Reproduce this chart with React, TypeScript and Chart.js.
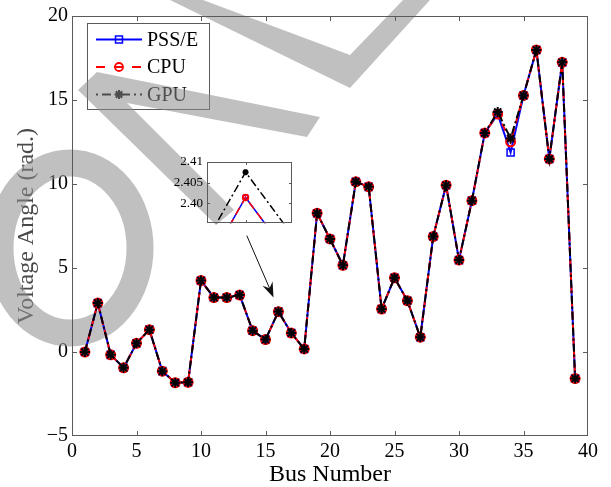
import React, { useEffect, useRef } from "react";
import { Chart, registerables } from "chart.js";

Chart.register(...registerables);

// ---------------- data ----------------
const BUS_NUMBERS = [
  1, 2, 3, 4, 5, 6, 7, 8, 9, 10, 11, 12, 13, 14, 15, 16, 17, 18, 19, 20,
  21, 22, 23, 24, 25, 26, 27, 28, 29, 30, 31, 32, 33, 34, 35, 36, 37, 38, 39,
];
const PSSE_ANGLES = [
  0, 2.91, -0.17, -0.94, 0.52, 1.33, -1.14, -1.83, -1.8, 4.25, 3.24, 3.24, 3.39,
  1.27, 0.74, 2.4014, 1.13, 0.18, 8.26, 6.73, 5.16, 10.13, 9.83, 2.56, 4.42,
  3.05, 0.88, 6.87, 9.93, 5.47, 9.01, 13.04, 14.16, 11.88, 15.27, 17.98, 11.49,
  17.24, -1.58,
];
const CPU_ANGLES = [
  0, 2.91, -0.17, -0.94, 0.52, 1.33, -1.14, -1.83, -1.8, 4.25, 3.24, 3.24, 3.39,
  1.27, 0.74, 2.4014, 1.13, 0.18, 8.26, 6.73, 5.16, 10.13, 9.83, 2.56, 4.42,
  3.05, 0.88, 6.87, 9.93, 5.47, 9.01, 13.04, 14.16, 12.51, 15.27, 17.98, 11.49,
  17.24, -1.58,
];
const GPU_ANGLES = [
  0, 2.91, -0.17, -0.94, 0.52, 1.33, -1.14, -1.83, -1.8, 4.25, 3.24, 3.24, 3.39,
  1.27, 0.74, 2.4075, 1.13, 0.18, 8.26, 6.73, 5.16, 10.13, 9.83, 2.56, 4.42,
  3.05, 0.88, 6.87, 9.93, 5.47, 9.01, 13.04, 14.29, 12.71, 15.27, 17.98, 11.49,
  17.24, -1.58,
];
const SERIES_NAMES = ["PSS/E", "CPU", "GPU"];
const X_TICKS = [0, 5, 10, 15, 20, 25, 30, 35, 40];
const Y_TICKS = [-5, 0, 5, 10, 15, 20];
const X_TITLE = "Bus Number";
const Y_TITLE = "Voltage Angle (rad.)";

const INSET_X_RANGE = [15.9902, 16.0118];
const INSET_Y_RANGE = [2.3952, 2.41];
const INSET_X_TICKS = [16];
const INSET_Y_TICKS = [2.4, 2.405, 2.41];
const INSET_Y_LABELS = ["2.40", "2.405", "2.41"];

const ARROW_FROM = [13.55, 6.93];
const ARROW_TO = [15.62, 3.25];

// ---------------- styles ----------------
const FONT = "'Liberation Serif', 'Times New Roman', Times, serif";
const AXIS_COLOR = "#5a5a5a";
const BLUE = "#0000ff";
const RED = "#ff0000";
const BLACK = "#000000";
const WATERMARK = "rgba(140,140,140,0.55)";

const W = 611;
const H = 487;

function toPoints(vals: number[]) {
  return BUS_NUMBERS.map((b, i) => ({ x: b, y: vals[i] }));
}

function makeDatasets(markerScale: number, lineW: number) {
  return [
    {
      label: SERIES_NAMES[0],
      data: toPoints(PSSE_ANGLES),
      borderColor: BLUE,
      backgroundColor: BLUE,
      borderWidth: lineW,
      pointStyle: "rect",
      pointRadius: 5 * markerScale,
      pointBorderWidth: 1.5,
      pointBorderColor: BLUE,
      pointBackgroundColor: "rgba(0,0,0,0)",
      tension: 0,
      fill: false,
      order: 3,
    },
    {
      label: SERIES_NAMES[1],
      data: toPoints(CPU_ANGLES),
      borderColor: RED,
      backgroundColor: RED,
      borderWidth: lineW,
      borderDash: [8, 5],
      pointStyle: "circle",
      pointRadius: 4.5 * markerScale,
      pointBorderWidth: 2,
      pointBorderColor: RED,
      pointBackgroundColor: "rgba(0,0,0,0)",
      tension: 0,
      fill: false,
      order: 2,
    },
    {
      label: SERIES_NAMES[2],
      data: toPoints(GPU_ANGLES),
      borderColor: BLACK,
      backgroundColor: BLACK,
      borderWidth: lineW,
      borderDash: [8, 3, 2, 3],
      pointStyle: "star",
      pointRadius: 5 * markerScale,
      pointBorderWidth: 2,
      pointBorderColor: BLACK,
      pointBackgroundColor: BLACK,
      tension: 0,
      fill: false,
      order: 1,
    },
  ];
}

function drawFrameAndTicks(chart: any, xTicks: number[], yTicks: number[], len: number, color: string) {
  const ctx: CanvasRenderingContext2D = chart.ctx;
  const a = chart.chartArea;
  const left = Math.round(a.left), top = Math.round(a.top);
  const right = Math.round(a.right), bottom = Math.round(a.bottom);
  const xs = chart.scales.x;
  const ys = chart.scales.y;
  ctx.save();
  ctx.strokeStyle = color;
  ctx.lineWidth = 1;
  ctx.setLineDash([]);
  ctx.strokeRect(left + 0.5, top + 0.5, right - left - 1, bottom - top - 1);
  ctx.beginPath();
  xTicks.forEach((v) => {
    const px = Math.round(xs.getPixelForValue(v)) + 0.5;
    if (px <= left + 1 || px >= right - 1) return;
    ctx.moveTo(px, bottom);
    ctx.lineTo(px, bottom - len);
    ctx.moveTo(px, top);
    ctx.lineTo(px, top + len);
  });
  yTicks.forEach((v) => {
    const py = Math.round(ys.getPixelForValue(v)) + 0.5;
    if (py <= top + 1 || py >= bottom - 1) return;
    ctx.moveTo(left, py);
    ctx.lineTo(left + len, py);
    ctx.moveTo(right, py);
    ctx.lineTo(right - len, py);
  });
  ctx.stroke();
  ctx.restore();
}

function drawMarker(ctx: CanvasRenderingContext2D, kind: string, x: number, y: number, color: string) {
  ctx.save();
  ctx.setLineDash([]);
  ctx.strokeStyle = color;
  ctx.beginPath();
  if (kind === "rect") {
    ctx.lineWidth = 1.5;
    ctx.rect(x - 3.5, y - 3.5, 7, 7);
  } else if (kind === "circle") {
    ctx.lineWidth = 1.8;
    ctx.arc(x, y, 4, 0, Math.PI * 2);
  } else {
    ctx.lineWidth = 2;
    for (let k = 0; k < 4; k++) {
      const ang = (k * Math.PI) / 4;
      ctx.moveTo(x - 4.5 * Math.cos(ang), y - 4.5 * Math.sin(ang));
      ctx.lineTo(x + 4.5 * Math.cos(ang), y + 4.5 * Math.sin(ang));
    }
  }
  ctx.stroke();
  ctx.restore();
}

function drawLegend(ctx: CanvasRenderingContext2D) {
  const L = 87, T = 23, R = 209, B = 109;
  ctx.save();
  ctx.fillStyle = "#ffffff";
  ctx.fillRect(L, T, R - L, B - T);
  ctx.strokeStyle = AXIS_COLOR;
  ctx.lineWidth = 1;
  ctx.strokeRect(L + 0.5, T + 0.5, R - L, B - T);
  const rows = [
    { color: BLUE, dash: [] as number[], marker: "rect" },
    { color: RED, dash: [9, 9], marker: "circle" },
    { color: BLACK, dash: [2, 4, 9, 4], marker: "star" },
  ];
  rows.forEach((r, i) => {
    const y = 39.5 + i * 27.5;
    ctx.save();
    ctx.strokeStyle = r.color;
    ctx.lineWidth = 2;
    ctx.setLineDash(r.dash);
    ctx.beginPath();
    ctx.moveTo(96, y);
    ctx.lineTo(142, y);
    ctx.stroke();
    ctx.restore();
    drawMarker(ctx, r.marker, 119, y, r.color);
    ctx.fillStyle = "#000";
    ctx.font = `20px ${FONT}`;
    ctx.textBaseline = "middle";
    ctx.textAlign = "left";
    ctx.fillText(SERIES_NAMES[i], 147, y + 1);
  });
  ctx.restore();
}

function fillPoly(ctx: CanvasRenderingContext2D, pts: number[][]) {
  ctx.beginPath();
  pts.forEach(([px, py], i) => (i ? ctx.lineTo(px, py) : ctx.moveTo(px, py)));
  ctx.closePath();
  ctx.fill();
}

function drawWatermark(ctx: CanvasRenderingContext2D) {
  ctx.save();
  ctx.setLineDash([]);
  ctx.fillStyle = WATERMARK;
  ctx.strokeStyle = WATERMARK;
  // "O"
  ctx.beginPath();
  ctx.ellipse(70, 248, 70, 85, 0, 0, Math.PI * 2);
  ctx.lineWidth = 27;
  ctx.stroke();
  // "N": flat stroke and steep stroke joined at the left tip (one outline, no overlap)
  fillPoly(ctx, [
    [78, 90], [97, 72], [320, 117], [307, 137], [127, 103], [234, 210], [216, 225],
  ]);
  // "L"
  fillPoly(ctx, [[170, 0], [203, 0], [350, 55], [403, 0], [430, 0], [350, 88]]);
  ctx.restore();
}

const mainDecor = {
  id: "mainDecor",
  beforeDatasetsDraw(chart: any) {
    drawLegend(chart.ctx);
    drawWatermark(chart.ctx);
  },
  afterDatasetsDraw(chart: any) {
    const { ctx, scales } = chart;
    const x0 = scales.x.getPixelForValue(ARROW_FROM[0]);
    const y0 = scales.y.getPixelForValue(ARROW_FROM[1]);
    const x1 = scales.x.getPixelForValue(ARROW_TO[0]);
    const y1 = scales.y.getPixelForValue(ARROW_TO[1]);
    const ang = Math.atan2(y1 - y0, x1 - x0);
    const c = Math.cos(ang), s = Math.sin(ang);
    const headLen = 15, headW = 5.5, notch = 10;
    ctx.save();
    ctx.setLineDash([]);
    ctx.strokeStyle = "#111";
    ctx.fillStyle = "#111";
    ctx.lineWidth = 1;
    ctx.beginPath();
    ctx.moveTo(x0, y0);
    ctx.lineTo(x1 - notch * c, y1 - notch * s);
    ctx.stroke();
    ctx.beginPath();
    ctx.moveTo(x1, y1);
    ctx.lineTo(x1 - headLen * c - headW * s, y1 - headLen * s + headW * c);
    ctx.lineTo(x1 - notch * c, y1 - notch * s);
    ctx.lineTo(x1 - headLen * c + headW * s, y1 - headLen * s - headW * c);
    ctx.closePath();
    ctx.fill();
    ctx.restore();
  },
  afterDraw(chart: any) {
    drawFrameAndTicks(chart, X_TICKS, Y_TICKS, 5, AXIS_COLOR);
  },
};

const insetDecor = {
  id: "insetDecor",
  afterDraw(chart: any) {
    drawFrameAndTicks(chart, INSET_X_TICKS, INSET_Y_TICKS, 3, AXIS_COLOR);
  },
};

const fmtTick = (v: number) => (v < 0 ? "\u2212" + Math.abs(v) : String(v));

export default function App() {
  const mainRef = useRef<HTMLCanvasElement | null>(null);
  const insetRef = useRef<HTMLCanvasElement | null>(null);

  useEffect(() => {
    if (!mainRef.current || !insetRef.current) return;
    const main = new Chart(mainRef.current, {
      type: "line",
      data: { datasets: makeDatasets(1, 2) as any },
      options: {
        animation: false,
        responsive: false,
        devicePixelRatio: 1,
        layout: { padding: { left: 0, top: 14, right: W - 588, bottom: 0 } },
        plugins: { legend: { display: false }, tooltip: { enabled: false } },
        scales: {
          x: {
            type: "linear",
            min: 0,
            max: 40,
            afterBuildTicks: (s: any) => {
              s.ticks = X_TICKS.map((v) => ({ value: v }));
            },
            afterFit: (s: any) => {
              s.height = H - 436;
            },
            grid: { display: false, drawTicks: false },
            border: { display: false },
            ticks: {
              color: "#000",
              padding: 4,
              maxRotation: 0,
              font: { family: FONT, size: 20, lineHeight: 1.2 },
              callback: (v: any) => fmtTick(Number(v)),
            },
            title: {
              display: true,
              text: X_TITLE,
              color: "#000",
              font: { family: FONT, size: 24, lineHeight: 1 },
              padding: { top: 0, bottom: 0 },
            },
          },
          y: {
            type: "linear",
            min: -5,
            max: 20,
            afterBuildTicks: (s: any) => {
              s.ticks = Y_TICKS.map((v) => ({ value: v }));
            },
            afterFit: (s: any) => {
              s.width = 72;
            },
            grid: { display: false, drawTicks: false },
            border: { display: false },
            ticks: {
              color: "#000",
              padding: 4,
              font: { family: FONT, size: 20, lineHeight: 1.2 },
              callback: (v: any) => fmtTick(Number(v)),
            },
            title: {
              display: true,
              text: Y_TITLE,
              color: "#4a4a4a",
              font: { family: FONT, size: 24, lineHeight: 1 },
              padding: { top: 15, bottom: 0 },
            },
          },
        },
      } as any,
      plugins: [mainDecor],
    });

    const inset = new Chart(insetRef.current, {
      type: "line",
      data: { datasets: makeDatasets(0.6, 1.5) as any },
      options: {
        animation: false,
        responsive: false,
        devicePixelRatio: 1,
        layout: { padding: { left: 0, top: 9, right: 8, bottom: 8 } },
        plugins: { legend: { display: false }, tooltip: { enabled: false } },
        scales: {
          x: {
            type: "linear",
            display: false,
            min: INSET_X_RANGE[0],
            max: INSET_X_RANGE[1],
          },
          y: {
            type: "linear",
            min: INSET_Y_RANGE[0],
            max: INSET_Y_RANGE[1],
            afterBuildTicks: (s: any) => {
              s.ticks = INSET_Y_TICKS.map((v) => ({ value: v }));
            },
            afterFit: (s: any) => {
              s.width = 47;
            },
            grid: { display: false, drawTicks: false },
            border: { display: false },
            ticks: {
              color: "#000",
              padding: 4,
              font: { family: FONT, size: 13, lineHeight: 1.2 },
              callback: (v: any) => {
                const i = INSET_Y_TICKS.findIndex((t) => Math.abs(t - Number(v)) < 1e-9);
                return i >= 0 ? INSET_Y_LABELS[i] : "";
              },
            },
          },
        },
      } as any,
      plugins: [insetDecor],
    });

    return () => {
      main.destroy();
      inset.destroy();
    };
  }, []);

  return (
    <div
      style={{
        position: "absolute",
        left: 0,
        top: 0,
        width: W,
        height: H,
        background: "#ffffff",
      }}
    >
      <canvas
        ref={mainRef}
        width={W}
        height={H}
        style={{ position: "absolute", left: 0, top: 0, width: W, height: H }}
      />
      <canvas
        ref={insetRef}
        width={140}
        height={85}
        style={{ position: "absolute", left: 160, top: 150, width: 140, height: 85 }}
      />
    </div>
  );
}
